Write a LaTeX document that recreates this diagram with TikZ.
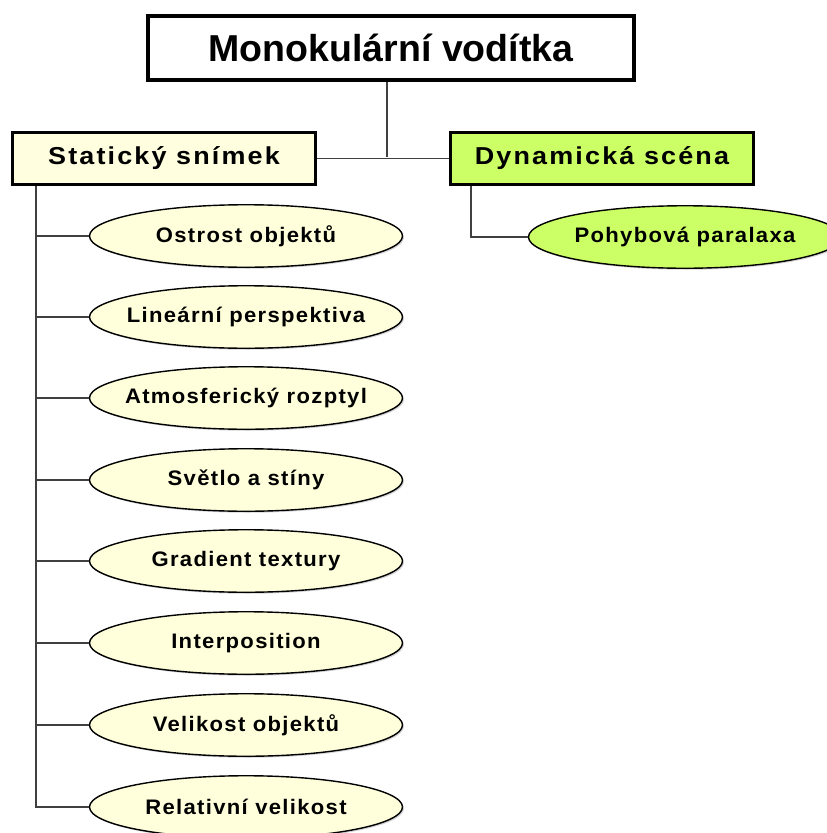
\documentclass[tikz,border=0pt]{standalone}
\usepackage{fontspec}
\usepackage{graphicx}
\setmainfont{Liberation Sans}
\newfontfamily\leafspaced[LetterSpace=6]{Liberation Sans}
\newfontfamily\catspaced[LetterSpace=8]{Liberation Sans}
\usetikzlibrary{shapes.geometric,shadows}
\newcommand\widetxt[2]{\makebox[0pt]{\scalebox{#1}[1]{#2}}}
\definecolor{lightyel}{HTML}{FFFFE0}
\definecolor{ellyel}{HTML}{FFFFDC}
\definecolor{limegr}{HTML}{CCFF66}
\definecolor{linegray}{HTML}{404040}
\tikzset{
  sh/.style={drop shadow={opacity=0.35,shadow xshift=1.5pt,shadow yshift=-1.5pt}},
  titlebox/.style={draw=black,line width=4pt,fill=white,minimum width=486pt,minimum height=64pt,inner sep=0pt,
    font=\fontsize{37.5}{40}\selectfont\bfseries},
  catbox/.style={draw=black,line width=3pt,minimum width=303pt,minimum height=52pt,inner sep=0pt,sh,
    font=\catspaced\fontsize{24.5}{27}\selectfont\bfseries},
  leaf/.style={ellipse,draw=black,line width=1.4pt,fill=ellyel,minimum width=313pt,minimum height=62.5pt,inner sep=0pt,sh,
    font=\leafspaced\fontsize{21}{23}\selectfont\bfseries},
  conn/.style={draw=linegray,line width=1.4pt},
}
\newcommand\cattxt[1]{\widetxt{1.1}{#1}}
\newcommand\leaftxt[1]{\widetxt{1.05}{#1}}
\begin{document}
\begin{tikzpicture}[x=1pt,y=-1pt]
\useasboundingbox (0,0) rectangle (827,833);
\clip (0,0) rectangle (827,833);
\node[titlebox] (title) at (391,48) {Monokulární vodítka};
\node[catbox,fill=lightyel] (stat) at (164,158.5) {\cattxt{Statický snímek}};
\node[catbox,fill=limegr] (dyn) at (602,158.5) {\cattxt{Dynamická scéna}};
\coordinate (j) at (387,157);
\draw[conn] (title.south -| j) -- (j);
\draw[conn] (stat.east) -- (dyn.west);
% static leaves
\coordinate (trunkS) at (36,186);
\node[leaf] (l1) at (246,236) {\leaftxt{Ostrost objektů}};
\node[leaf] (l2) at (246,317) {\leaftxt{Lineární perspektiva}};
\node[leaf] (l3) at (246,398) {\leaftxt{Atmosferický rozptyl}};
\node[leaf] (l4) at (246,480) {\leaftxt{Světlo a stíny}};
\node[leaf] (l5) at (246,561) {\leaftxt{Gradient textury}};
\node[leaf] (l6) at (246,643) {\leaftxt{Interposition}};
\node[leaf] (l7) at (246,725) {\leaftxt{Velikost objektů}};
\node[leaf] (l8) at (246,807) {\leaftxt{Relativní velikost}};
\draw[conn] (stat.south -| trunkS) -- (trunkS |- l8.west) -- (l8.west);
\foreach \n in {l1,l2,l3,l4,l5,l6,l7}{
  \draw[conn] (trunkS |- \n.west) -- (\n.west);
}
% dynamic leaf
\coordinate (trunkD) at (471,186);
\node[leaf,fill=limegr] (d1) at (685,237) {\leaftxt{Pohybová paralaxa}};
\draw[conn] (dyn.south -| trunkD) -- (trunkD |- d1.west) -- (d1.west);
\end{tikzpicture}
\end{document}
